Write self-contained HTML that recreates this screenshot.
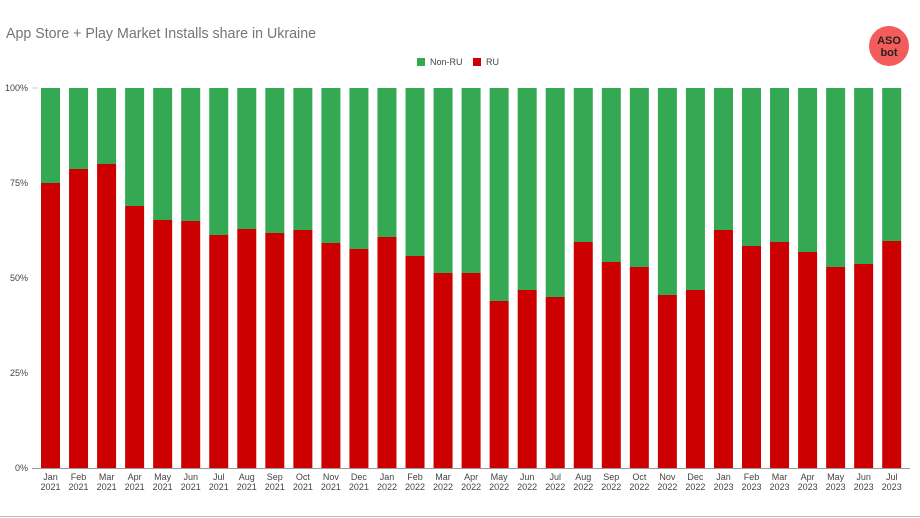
<!DOCTYPE html>
<html><head><style>
body{margin:0;background:#fff;}
svg{display:block;font-family:"Liberation Sans",sans-serif;}
</style></head><body>
<svg width="920" height="518" viewBox="0 0 920 518">
<text x="6" y="38" font-size="14.5" fill="#757575" textLength="310" lengthAdjust="spacingAndGlyphs">App Store + Play Market Installs share in Ukraine</text>
<circle cx="889" cy="46" r="20" fill="#f45b5b"/>
<text x="889" y="44" font-size="11" font-weight="bold" text-anchor="middle" fill="#222">ASO</text>
<text x="889" y="56" font-size="11" font-weight="bold" text-anchor="middle" fill="#222">bot</text>
<rect x="417" y="58" width="8" height="8" fill="#34a853"/>
<text x="430" y="65" font-size="9" fill="#444">Non-RU</text>
<rect x="473" y="58" width="8" height="8" fill="#cc0000"/>
<text x="486" y="65" font-size="9" fill="#444">RU</text>
<g font-size="9" fill="#444" text-anchor="end">
<text x="28" y="91">100%</text><text x="28" y="186">75%</text><text x="28" y="281">50%</text><text x="28" y="376">25%</text><text x="28" y="471">0%</text>
</g>
<line x1="32" y1="88" x2="38" y2="88" stroke="#ccc"/>
<line x1="32" y1="468.5" x2="910" y2="468.5" stroke="#999"/>
<line x1="0" y1="516.5" x2="920" y2="516.5" stroke="#bbb"/>
<g id="bars"></g>
</svg>
<script>
var tops=[183,169,164,206,220,221,235,229,233,230,243,249,237,256,273,273,301,290,297,242,262,267,295,290,230,246,242,252,267,264,241];
var m=["Jan","Feb","Mar","Apr","May","Jun","Jul","Aug","Sep","Oct","Nov","Dec"];
var s="";
for(var i=0;i<31;i++){var cx=50.5+i*28.04,x=cx-9.5;
s+='<rect x="'+x+'" y="88" width="19" height="'+(tops[i]-88)+'" fill="#34a853"/>';
s+='<rect x="'+x+'" y="'+tops[i]+'" width="19" height="'+(468-tops[i])+'" fill="#cc0000"/>';
var mi=i%12,yr=2021+Math.floor(i/12);
s+='<text x="'+cx+'" y="480" font-size="9" fill="#444" text-anchor="middle">'+m[mi]+'</text>';
s+='<text x="'+cx+'" y="490" font-size="9" fill="#444" text-anchor="middle">'+yr+'</text>';}
document.getElementById("bars").innerHTML=s;
</script>
</body></html>
